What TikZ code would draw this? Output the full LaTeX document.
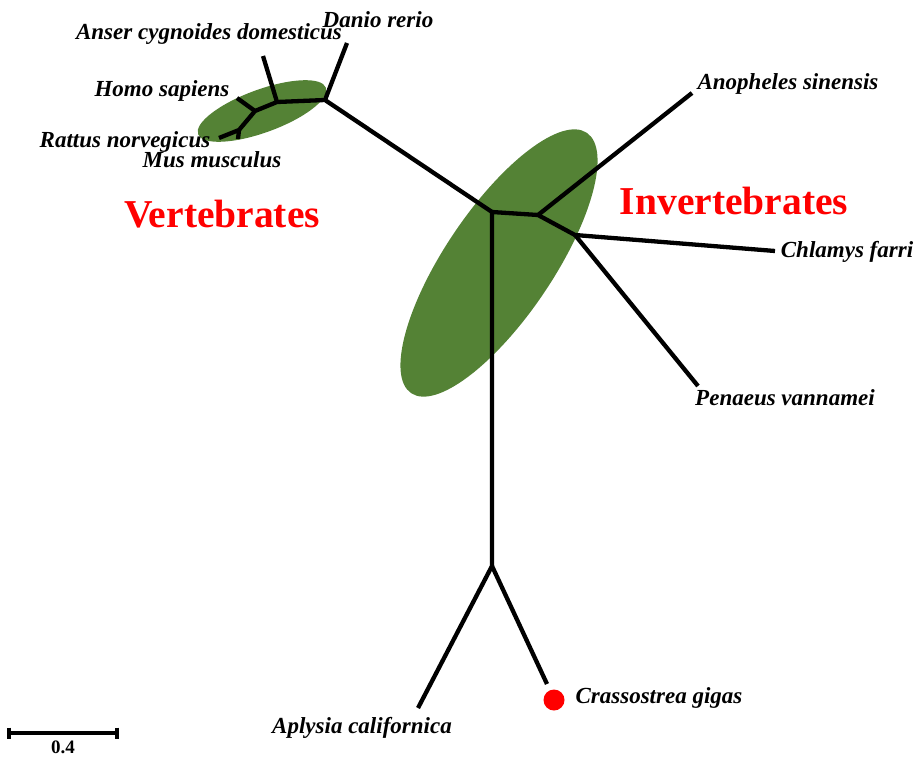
\documentclass[tikz,border=0pt]{standalone}
\usepackage{fontspec}
\setmainfont{Liberation Serif}
\begin{document}
\begin{tikzpicture}[x=1pt,y=-1pt,
  branch/.style={line width=4.3pt, line cap=butt, line join=round},
  taxon/.style={font=\fontsize{23}{26}\selectfont\bfseries\itshape, inner sep=0pt, anchor=base},
  group/.style={font=\fontsize{39.5}{44}\selectfont\bfseries, text=red, inner sep=0pt, anchor=base}]
\definecolor{cladegreen}{HTML}{548235}
\useasboundingbox (0,0) rectangle (917,757);
% clade ellipses
\fill[cladegreen, rotate around={20:(262,111)}] (262,111) ellipse [x radius=68pt, y radius=21.5pt];
\fill[cladegreen, rotate around={56:(499,263)}] (499,263) ellipse [x radius=157pt, y radius=54pt];
% internal nodes
\coordinate (C) at (492,212);
\coordinate (V1) at (325,100);
\coordinate (V2) at (277,102);
\coordinate (V3) at (255,111);
\coordinate (V4) at (239,130);
\coordinate (I1) at (538,215);
\coordinate (I2) at (575,235);
\coordinate (M) at (492,566);
% tips
\coordinate (tDanio) at (347,43);
\coordinate (tAnser) at (263,56);
\coordinate (tHomo) at (237,98);
\coordinate (tRattus) at (219,138);
\coordinate (tMus) at (238,139);
\coordinate (tAnoph) at (692,93);
\coordinate (tChlamys) at (775,251);
\coordinate (tPenaeus) at (698,386);
\coordinate (tAplysia) at (418,708);
\coordinate (tCrass) at (547,684);
% branches
\draw[branch] (C) -- (V1) -- (V2) -- (V3) -- (V4) -- (tRattus);
\draw[branch] (V4) -- (tMus);
\draw[branch] (V3) -- (tHomo);
\draw[branch] (V2) -- (tAnser);
\draw[branch] (V1) -- (tDanio);
\draw[branch] (C) -- (I1) -- (I2) -- (tChlamys);
\draw[branch] (I1) -- (tAnoph);
\draw[branch] (I2) -- (tPenaeus);
\draw[branch] (C) -- (M) -- (tAplysia);
\draw[branch] (M) -- (tCrass);
% marker
\fill[red] (554,700) circle [radius=10.5pt];
% labels
\node[taxon] (lDanio) at (378,28) {Danio rerio};
\node[taxon] (lAnser) at (209,40) {Anser cygnoides domesticus};
\node[taxon] (lHomo) at (162,97) {Homo sapiens};
\node[taxon] (lRattus) at (125,147) {Rattus norvegicus};
\node[taxon] (lMus) at (212,167) {Mus musculus};
\node[taxon] (lAnoph) at (788,90) {Anopheles sinensis};
\node[taxon] (lChlamys) at (847,257) {Chlamys farri};
\node[taxon] (lPenaeus) at (785,405) {Penaeus vannamei};
\node[taxon] (lAplysia) at (362,733) {Aplysia californica};
\node[taxon] (lCrass) at (659,703) {Crassostrea gigas};
\node[group] (gV) at (222,227) {Vertebrates};
\node[group] (gI) at (734,214) {Invertebrates};
% scale bar
\coordinate (sb1) at (9,733);
\coordinate (sb2) at (117,733);
\draw[line width=3.2pt] (sb1) -- (sb2);
\draw[line width=3.2pt] ([yshift=5.5pt]sb1) -- ([yshift=-6pt]sb1);
\draw[line width=3.2pt] ([yshift=5.5pt]sb2) -- ([yshift=-6pt]sb2);
\node[font=\fontsize{19}{21}\selectfont\bfseries, inner sep=0pt, anchor=base] (sbl) at (63,753) {0.4};
\end{tikzpicture}
\end{document}
